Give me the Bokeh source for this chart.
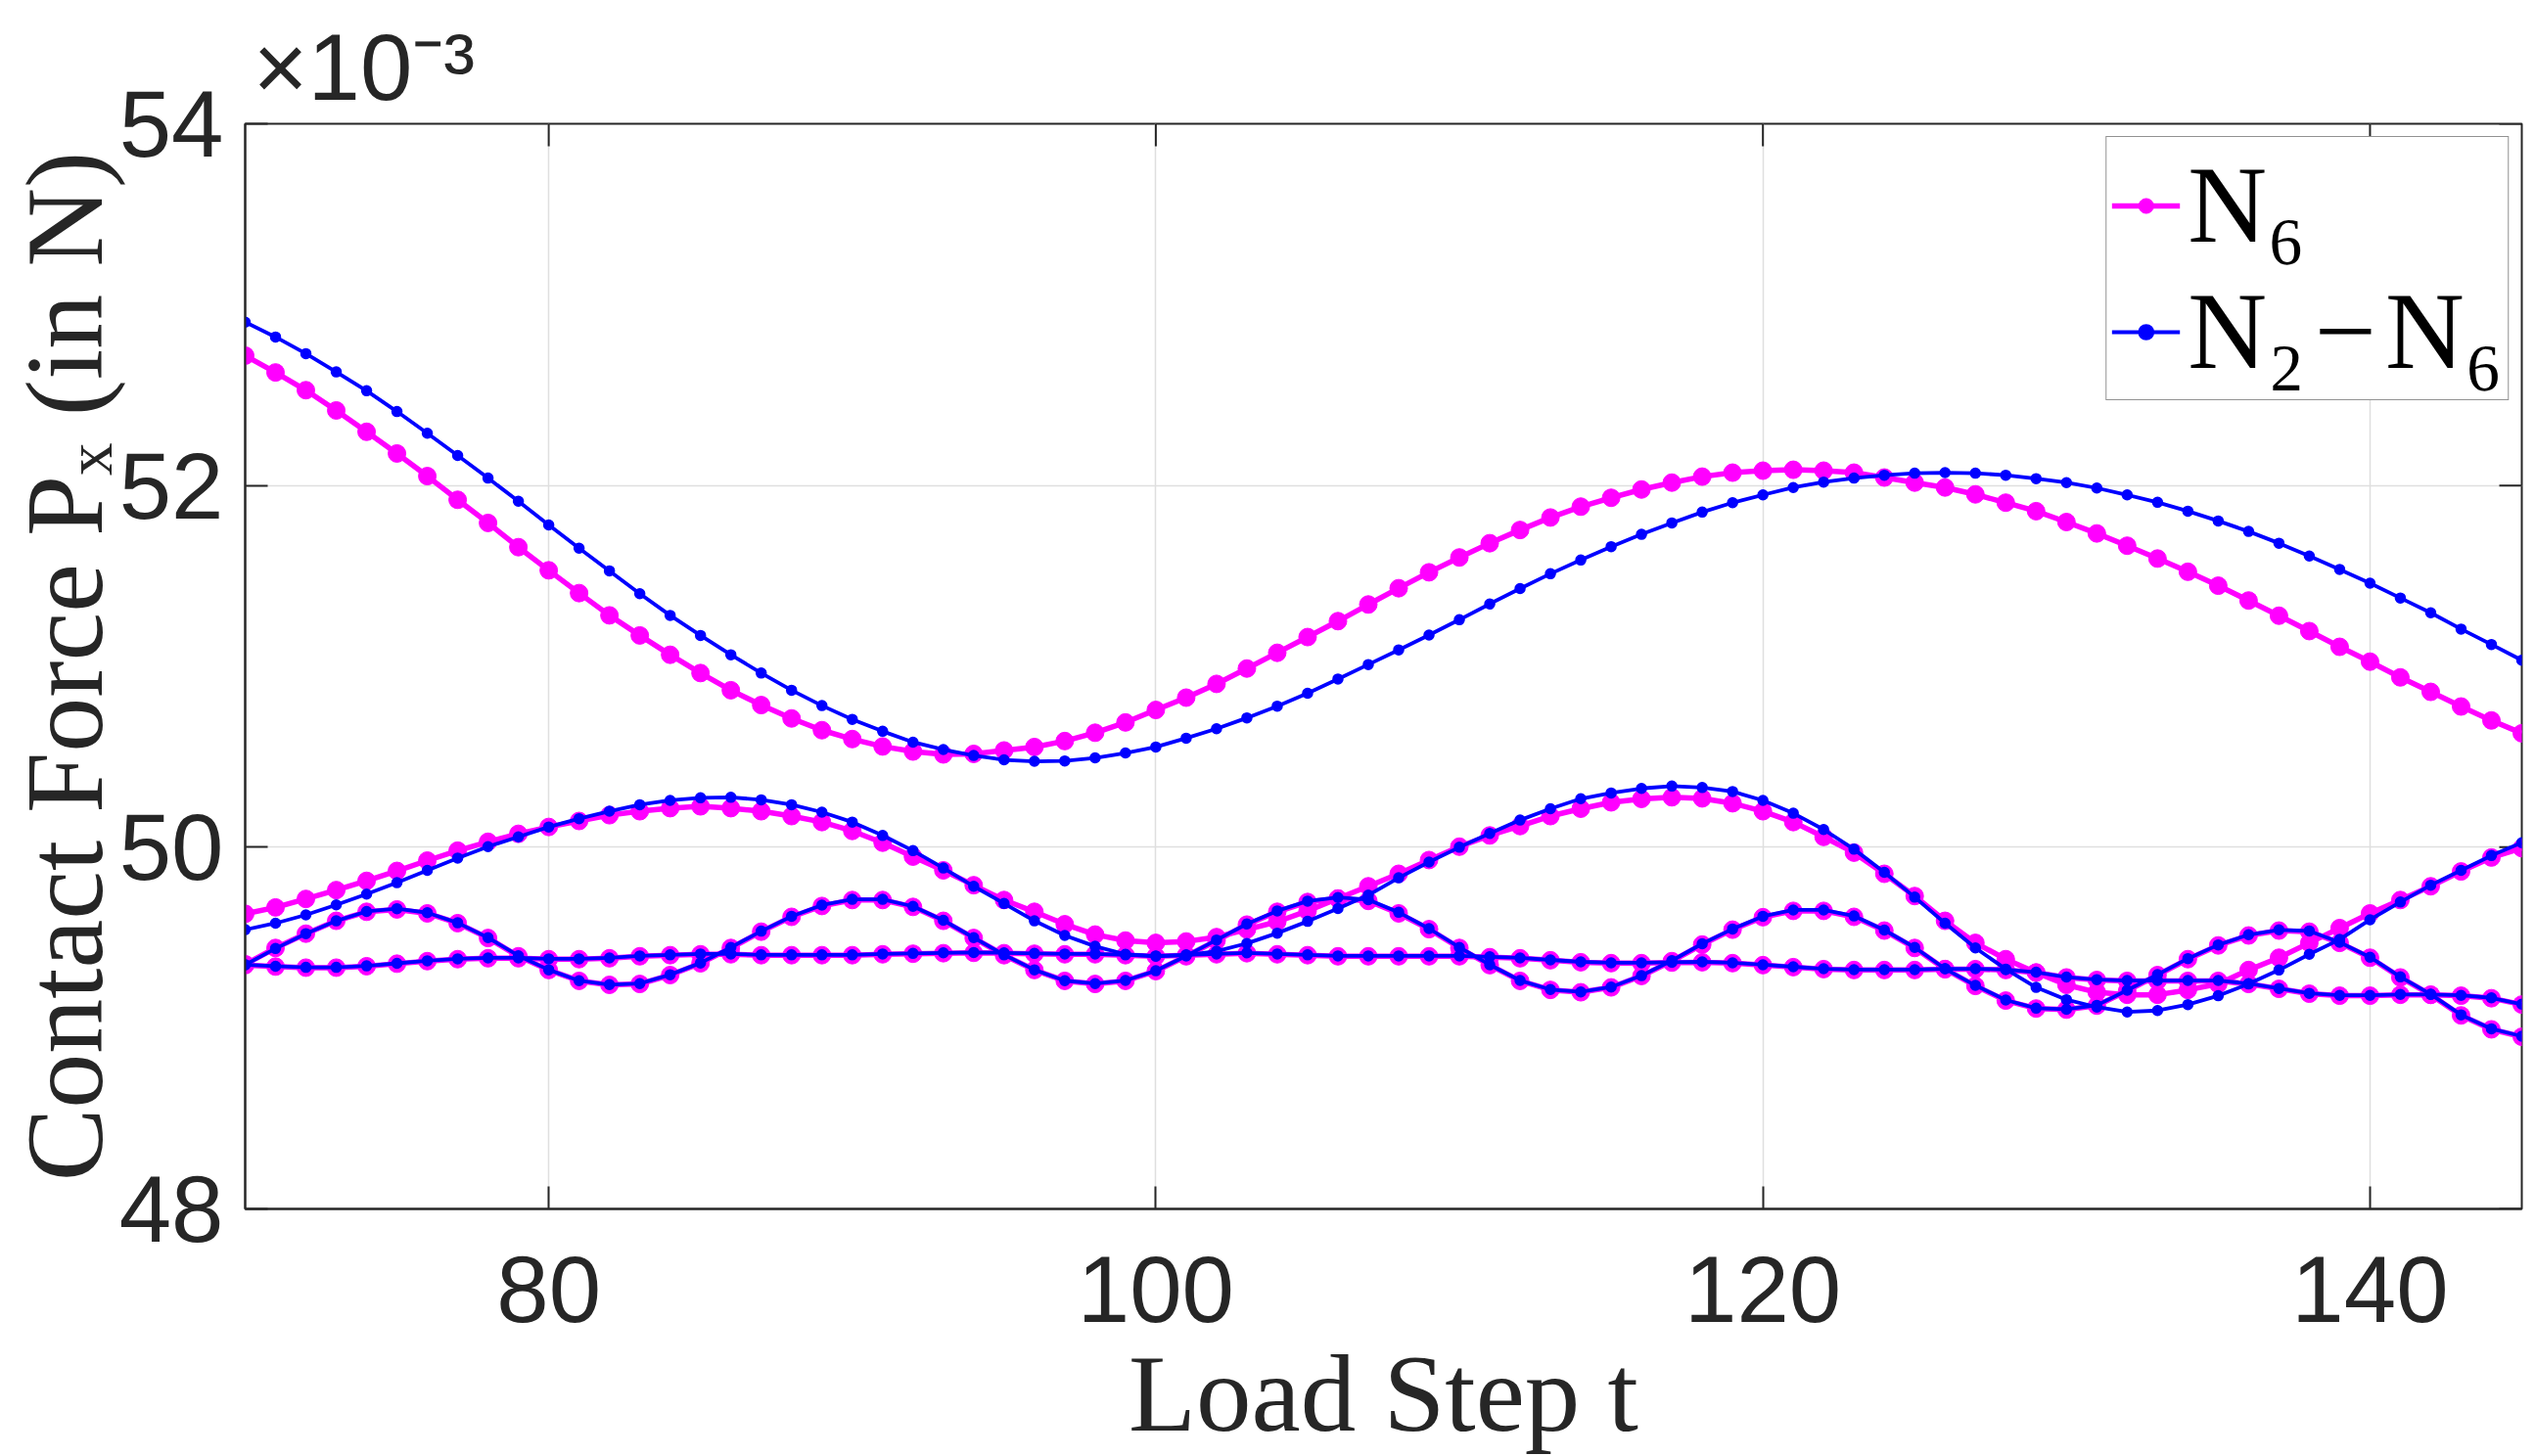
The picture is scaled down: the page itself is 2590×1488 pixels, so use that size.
import numpy as np
from bokeh.plotting import figure
from bokeh.models import Range1d, FixedTicker, Label, Legend, LegendItem
from bokeh.embed import file_html
from bokeh.resources import INLINE

# ---------------- data (contact force, in units of 1e-3 N) ----------------
steps = list(range(70, 146))
x_ticks = [80, 100, 120, 140]
y_ticks = [48, 50, 52, 54]

n6_a = [52.718, 52.625, 52.527, 52.415, 52.297, 52.177, 52.052, 51.921, 51.793, 51.659,
        51.531, 51.405, 51.282, 51.171, 51.064, 50.963, 50.868, 50.786, 50.712, 50.647,
        50.598, 50.557, 50.529, 50.513, 50.516, 50.535, 50.554, 50.587, 50.633, 50.690,
        50.759, 50.827, 50.903, 50.988, 51.075, 51.162, 51.250, 51.342, 51.432, 51.520,
        51.602, 51.681, 51.754, 51.823, 51.883, 51.932, 51.978, 52.016, 52.049, 52.071,
        52.082, 52.087, 52.082, 52.071, 52.044, 52.016, 51.989, 51.951, 51.905, 51.858,
        51.798, 51.735, 51.667, 51.596, 51.523, 51.446, 51.364, 51.280, 51.195, 51.108,
        51.026, 50.939, 50.859, 50.778, 50.701, 50.630]
n26_a = [52.903, 52.821, 52.729, 52.628, 52.524, 52.409, 52.289, 52.166, 52.041, 51.913,
         51.782, 51.653, 51.528, 51.402, 51.282, 51.171, 51.064, 50.963, 50.868, 50.783,
         50.707, 50.641, 50.581, 50.540, 50.507, 50.483, 50.475, 50.477, 50.494, 50.521,
         50.554, 50.603, 50.655, 50.715, 50.780, 50.851, 50.930, 51.010, 51.091, 51.173,
         51.258, 51.345, 51.430, 51.512, 51.588, 51.662, 51.730, 51.793, 51.853, 51.905,
         51.948, 51.989, 52.019, 52.041, 52.057, 52.068, 52.071, 52.068, 52.057, 52.038,
         52.016, 51.986, 51.948, 51.907, 51.858, 51.804, 51.746, 51.681, 51.610, 51.536,
         51.460, 51.378, 51.296, 51.206, 51.121, 51.034]
n6_b = [49.632, 49.667, 49.714, 49.763, 49.814, 49.869, 49.926, 49.981, 50.030, 50.074,
        50.112, 50.145, 50.177, 50.199, 50.216, 50.226, 50.216, 50.199, 50.172, 50.139,
        50.090, 50.025, 49.948, 49.872, 49.790, 49.708, 49.643, 49.574, 49.517, 49.484,
        49.471, 49.479, 49.503, 49.545, 49.588, 49.648, 49.716, 49.784, 49.853, 49.929,
        50.003, 50.065, 50.117, 50.172, 50.213, 50.248, 50.267, 50.276, 50.270, 50.243,
        50.199, 50.139, 50.057, 49.970, 49.853, 49.730, 49.593, 49.471, 49.381, 49.307,
        49.239, 49.198, 49.184, 49.184, 49.211, 49.244, 49.321, 49.389, 49.471, 49.553,
        49.634, 49.708, 49.784, 49.866, 49.943, 49.995]
n26_b = [49.544, 49.580, 49.626, 49.681, 49.741, 49.804, 49.872, 49.940, 50.003, 50.057,
         50.112, 50.158, 50.199, 50.235, 50.259, 50.273, 50.276, 50.262, 50.235, 50.194,
         50.139, 50.065, 49.981, 49.885, 49.784, 49.689, 49.593, 49.512, 49.452, 49.408,
         49.397, 49.403, 49.425, 49.468, 49.525, 49.590, 49.661, 49.735, 49.831, 49.918,
         50.000, 50.076, 50.150, 50.213, 50.268, 50.300, 50.325, 50.338, 50.330, 50.308,
         50.259, 50.188, 50.098, 49.989, 49.861, 49.724, 49.580, 49.443, 49.326, 49.225,
         49.157, 49.116, 49.089, 49.097, 49.130, 49.179, 49.244, 49.321, 49.408, 49.490,
         49.599, 49.697, 49.790, 49.872, 49.954, 50.025]
n6_c = [49.353, 49.443, 49.522, 49.593, 49.643, 49.656, 49.634, 49.580, 49.498, 49.397,
        49.321, 49.261, 49.239, 49.244, 49.293, 49.358, 49.443, 49.533, 49.615, 49.675,
        49.708, 49.708, 49.670, 49.593, 49.498, 49.403, 49.321, 49.261, 49.244, 49.261,
        49.315, 49.397, 49.484, 49.572, 49.643, 49.697, 49.716, 49.703, 49.634, 49.547,
        49.443, 49.348, 49.261, 49.211, 49.198, 49.225, 49.288, 49.370, 49.462, 49.544,
        49.613, 49.648, 49.648, 49.615, 49.539, 49.443, 49.326, 49.233, 49.152, 49.108,
        49.102, 49.124, 49.206, 49.293, 49.381, 49.457, 49.512, 49.539, 49.533, 49.471,
        49.389, 49.280, 49.184, 49.070, 48.993, 48.952]
n26_c = [49.350, 49.440, 49.522, 49.593, 49.645, 49.660, 49.638, 49.582, 49.500, 49.400,
         49.322, 49.262, 49.240, 49.246, 49.295, 49.360, 49.446, 49.536, 49.618, 49.680,
         49.712, 49.712, 49.673, 49.596, 49.500, 49.405, 49.322, 49.262, 49.246, 49.263,
         49.317, 49.399, 49.487, 49.576, 49.648, 49.702, 49.722, 49.710, 49.640, 49.550,
         49.446, 49.350, 49.263, 49.213, 49.200, 49.227, 49.290, 49.373, 49.466, 49.548,
         49.618, 49.653, 49.653, 49.620, 49.542, 49.446, 49.328, 49.236, 49.155, 49.110,
         49.104, 49.126, 49.209, 49.296, 49.384, 49.460, 49.516, 49.543, 49.537, 49.474,
         49.392, 49.283, 49.187, 49.073, 48.996, 48.955]
n6_d = [49.348, 49.340, 49.334, 49.334, 49.342, 49.356, 49.370, 49.381, 49.386, 49.386,
        49.381, 49.381, 49.386, 49.397, 49.403, 49.408, 49.408, 49.403, 49.403, 49.403,
        49.403, 49.408, 49.411, 49.414, 49.416, 49.414, 49.411, 49.408, 49.408, 49.403,
        49.397, 49.403, 49.408, 49.414, 49.408, 49.403, 49.397, 49.397, 49.397, 49.397,
        49.397, 49.392, 49.386, 49.375, 49.364, 49.359, 49.359, 49.362, 49.364, 49.359,
        49.348, 49.337, 49.326, 49.321, 49.321, 49.321, 49.326, 49.326, 49.321, 49.307,
        49.280, 49.266, 49.261, 49.261, 49.261, 49.261, 49.244, 49.217, 49.190, 49.179,
        49.179, 49.184, 49.184, 49.179, 49.165, 49.130]
n26_d = [49.350, 49.342, 49.336, 49.336, 49.344, 49.358, 49.372, 49.383, 49.388, 49.388,
         49.383, 49.383, 49.388, 49.399, 49.405, 49.410, 49.410, 49.405, 49.405, 49.405,
         49.405, 49.410, 49.413, 49.416, 49.418, 49.416, 49.413, 49.410, 49.410, 49.405,
         49.399, 49.405, 49.410, 49.416, 49.410, 49.405, 49.399, 49.399, 49.399, 49.399,
         49.399, 49.394, 49.388, 49.377, 49.366, 49.361, 49.361, 49.364, 49.366, 49.361,
         49.350, 49.339, 49.328, 49.323, 49.323, 49.323, 49.328, 49.328, 49.323, 49.309,
         49.282, 49.268, 49.263, 49.263, 49.263, 49.263, 49.246, 49.219, 49.192, 49.181,
         49.181, 49.186, 49.186, 49.181, 49.167, 49.132]

n6_series = [n6_a, n6_b, n6_c, n6_d]
n26_series = [n26_a, n26_b, n26_c, n26_d]
legend_labels = ["N\u2086", "N\u2082\u200a\u2212\u200aN\u2086"]
x_label = "Load Step t"
y_label = "Contact Force P\u2093 (in N)"
exponent_label = "\u00d710\u207b\u00b3"

# ---------------- layout ----------------
W, H = 2590, 1488
FL, FR, FT, FB = 250, 2576, 126, 1235          # frame edges in pixels
X0, X1, Y0, Y1 = 70, 145, 48, 54
TICK_PX = 23

AX = "#262626"
MAG = "#ff00ff"
BLU = "#0000ff"
SERIF = "Liberation Serif"
SANS = "Liberation Sans"

p = figure(width=W, height=H, output_backend="svg", toolbar_location=None,
           x_range=Range1d(X0, X1), y_range=Range1d(Y0, Y1),
           min_border_left=FL, min_border_right=W - FR,
           min_border_top=FT, min_border_bottom=H - FB)
p.background_fill_color = "white"
p.border_fill_color = "white"
p.outline_line_color = AX
p.outline_line_width = 2

for ax, ticks in ((p.xaxis[0], x_ticks), (p.yaxis[0], y_ticks)):
    ax.ticker = FixedTicker(ticks=ticks)
    ax.axis_line_color = AX
    ax.axis_line_width = 2
    ax.major_tick_line_color = AX
    ax.major_tick_line_width = 2
    ax.major_tick_in = TICK_PX
    ax.major_tick_out = 0
    ax.minor_tick_line_color = None
    ax.major_label_text_font = SANS
    ax.major_label_text_font_size = "96px"
    ax.major_label_text_color = AX
    ax.axis_label_text_font = SERIF
    ax.axis_label_text_font_style = "normal"
    ax.axis_label_text_color = AX
p.xaxis[0].major_label_standoff = 48
p.yaxis[0].major_label_standoff = 22
p.xaxis[0].axis_label = x_label
p.xaxis[0].axis_label_text_font_size = "113px"
p.xaxis[0].axis_label_standoff = 7
p.yaxis[0].axis_label = y_label
p.yaxis[0].axis_label_text_font_size = "112px"
p.yaxis[0].axis_label_standoff = -9

for g, ticks in ((p.xgrid[0], x_ticks), (p.ygrid[0], y_ticks)):
    g.ticker = FixedTicker(ticks=ticks)
    g.grid_line_color = "#dfdfdf"
    g.grid_line_width = 1.5

# inward ticks on the top and right edges of the box (from the tick lists)
dx_tick = TICK_PX * (X1 - X0) / (FR - FL)
dy_tick = TICK_PX * (Y1 - Y0) / (FB - FT)
p.segment(x0=x_ticks, y0=[Y1] * len(x_ticks), x1=x_ticks, y1=[Y1 - dy_tick] * len(x_ticks),
          line_color=AX, line_width=2)
p.segment(x0=[X1] * len(y_ticks), y0=y_ticks, x1=[X1 - dx_tick] * len(y_ticks), y1=y_ticks,
          line_color=AX, line_width=2)

# ---------------- curves ----------------
mag_r = []
for ys in n6_series:
    l = p.line(steps, ys, line_color=MAG, line_width=5.5)
    s = p.scatter(steps, ys, marker="circle", size=18, fill_color=MAG, line_color=MAG, line_width=1)
    mag_r.append((l, s))
blu_r = []
for ys in n26_series:
    l = p.line(steps, ys, line_color=BLU, line_width=3.8)
    s = p.scatter(steps, ys, marker="circle", size=10, fill_color=BLU, line_color=BLU, line_width=1.5)
    blu_r.append((l, s))

legend = Legend(items=[LegendItem(label=legend_labels[0], renderers=list(mag_r[0])),
                       LegendItem(label=legend_labels[1], renderers=list(blu_r[0]))],
                location="top_right")
legend.label_text_font = SERIF
legend.label_text_font_size = "112px"
legend.label_text_color = "black"
legend.glyph_width = 70
legend.glyph_height = 38
legend.label_height = 110
legend.label_standoff = 8
legend.padding = 5
legend.spacing = 0
legend.margin = 13
legend.border_line_color = AX
legend.border_line_width = 1.5
legend.background_fill_color = "white"
legend.background_fill_alpha = 1
p.add_layout(legend)

# axis multiplier, in the top margin (a side panel, so it is not clipped to the frame)
p.add_layout(Label(x=258, y=68, x_units="canvas", y_units="canvas", text=exponent_label,
                   text_font=SANS, text_font_size="96px", text_color=AX,
                   text_align="left", text_baseline="alphabetic"), "above")

open("out.html", "w").write(file_html(p, INLINE))
